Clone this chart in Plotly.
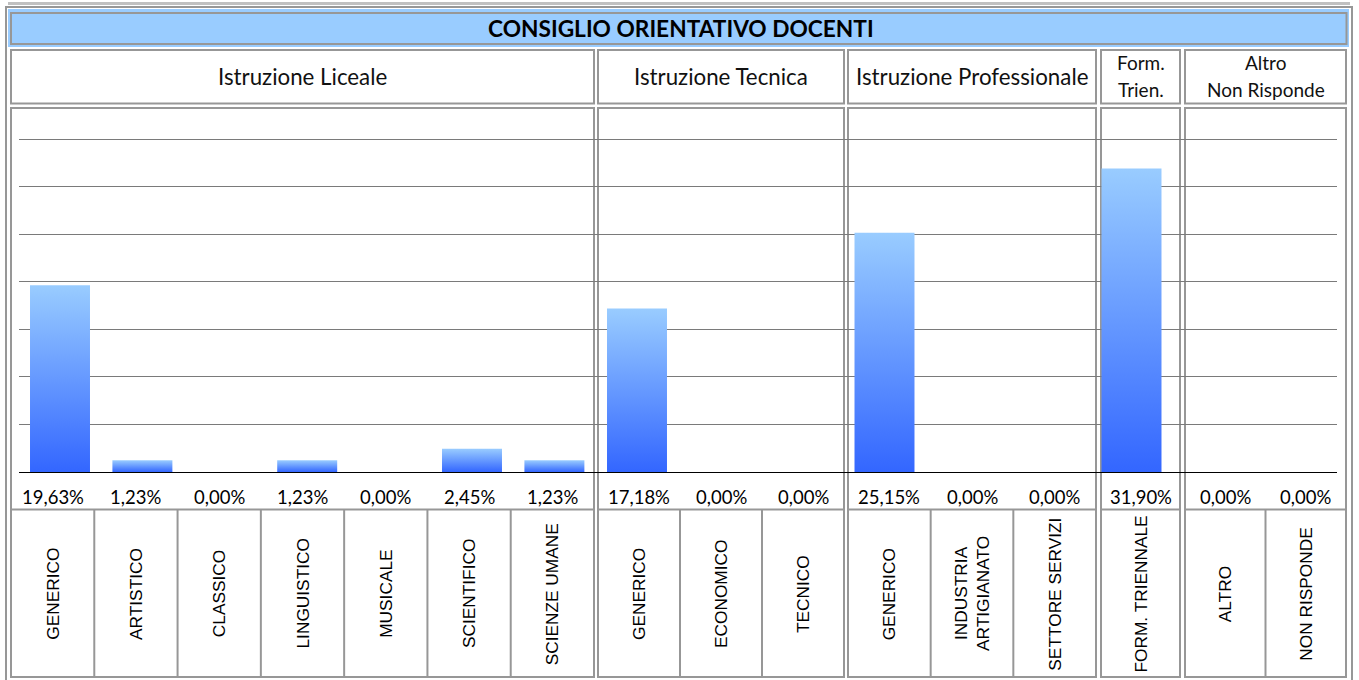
import plotly.graph_objects as go

W, H = 1359, 680

TITLE = "CONSIGLIO ORIENTATIVO DOCENTI"
group_titles = ["Istruzione Liceale", "Istruzione Tecnica", "Istruzione Professionale",
                "Form.<br>Trien.", "Altro<br>Non Risponde"]

liceale_labels = ["GENERICO", "ARTISTICO", "CLASSICO", "LINGUISTICO", "MUSICALE",
                  "SCIENTIFICO", "SCIENZE UMANE"]
liceale_values = [19.63, 1.23, 0.00, 1.23, 0.00, 2.45, 1.23]
tecnica_labels = ["GENERICO", "ECONOMICO", "TECNICO"]
tecnica_values = [17.18, 0.00, 0.00]
professionale_labels = ["GENERICO", "INDUSTRIA<br>ARTIGIANATO", "SETTORE SERVIZI"]
professionale_values = [25.15, 0.00, 0.00]
form_labels = ["FORM. TRIENNALE"]
form_values = [31.90]
altro_labels = ["ALTRO", "NON RISPONDE"]
altro_values = [0.00, 0.00]

groups = [
    (liceale_labels, liceale_values),
    (tecnica_labels, tecnica_values),
    (professionale_labels, professionale_values),
    (form_labels, form_values),
    (altro_labels, altro_values),
]

# layout geometry, in pixels of the 1359x680 page
cell_x = [(11, 594), (598, 844), (848, 1096), (1101, 1180), (1185, 1346)]
plot_x = [(19, 596), (596, 846), (846, 1100), (1100, 1182), (1182, 1337)]
first_bar_px = [60, 637, 884.5, 1131.5, 1223]
cat_px = 82.4
bar_half = 0.364
base_px, top_px, px_per_unit = 472, 120, 9.514

BORDER = "#979797"
TEXT_FONT = "Lato, Carlito, sans-serif"
LABEL_FONT = "Liberation Sans, Arial, sans-serif"


def X(px):
    return px / W


def Y(py):
    return 1 - py / H


def rect(x0, y0, x1, y1, color=BORDER, width=2, fill=None):
    return dict(type="rect", xref="paper", yref="paper",
                x0=X(x0), y0=Y(y0), x1=X(x1), y1=Y(y1),
                line=dict(color=color, width=width),
                fillcolor=fill, layer="below")


def line(x0, y0, x1, y1, color=BORDER, width=2):
    return dict(type="line", xref="paper", yref="paper",
                x0=X(x0), y0=Y(y0), x1=X(x1), y1=Y(y1),
                line=dict(color=color, width=width), layer="below")


def text(s, px, py, size, family=TEXT_FONT, color="#000000", angle=0):
    return dict(text=s, x=X(px), y=Y(py), xref="paper", yref="paper",
                xanchor="center", yanchor="middle", showarrow=False,
                textangle=angle, font=dict(family=family, size=size, color=color))


fig = go.Figure()
shapes = [
    dict(type="rect", xref="paper", yref="paper", x0=X(8), y0=Y(2), x1=X(1350), y1=Y(5),
         fillcolor="#c0c0c0", line=dict(width=0), layer="below"),
    rect(6, 7, 1352, 690),
    dict(type="rect", xref="paper", yref="paper", x0=X(8), y0=Y(9), x1=X(1349), y1=Y(47),
         fillcolor="#99ccff", line=dict(width=0), layer="below"),
    rect(11, 13, 1346.5, 44),
]
annotations = [text(f"<b>{TITLE}</b>", 681, 29, 22.7)]

for g, ((labels, values), (cx0, cx1), (px0, px1), c0, gtitle) in enumerate(
        zip(groups, cell_x, plot_x, first_bar_px, group_titles)):
    n = len(labels)
    shapes.append(rect(cx0, 50, cx1, 103.5))
    shapes.append(rect(cx0, 108, cx1, 677))
    shapes.append(line(cx0, 509.5, cx1, 509.5))
    cw = (cx1 - cx0) / n
    for k in range(1, n):
        shapes.append(line(cx0 + k * cw, 509.5, cx0 + k * cw, 677))

    parts = gtitle.split("<br>")
    if len(parts) == 1:
        annotations.append(text(gtitle, (cx0 + cx1) / 2, 76, 22.3, color="#111111"))
    else:
        for part, py in zip(parts, (62, 90)):
            annotations.append(text(part, (cx0 + cx1) / 2, py, 19, color="#111111"))

    xa = "x" if g == 0 else f"x{g + 1}"
    ya = "y" if g == 0 else f"y{g + 1}"
    for i, (lab, v) in enumerate(zip(labels, values)):
        fig.add_trace(go.Scatter(
            x=[i - bar_half, i + bar_half, i + bar_half, i - bar_half, i - bar_half],
            y=[0, 0, v, v, 0],
            mode="lines", fill="toself", line=dict(width=0),
            fillgradient=dict(type="vertical",
                              colorscale=[[0, "#3366ff"], [1, "#99ccff"]]),
            name=lab.replace("<br>", " "), showlegend=False,
            hovertemplate=f"{lab.replace('<br>', ' ')}: {v:.2f}%<extra></extra>",
            xaxis=xa, yaxis=ya,
        ))
        mid = cx0 + (i + 0.5) * cw
        annotations.append(text(f"{v:.2f}%".replace(".", ","), mid, 497, 18.5))
        annotations.append(text(lab, mid, 594, 17.3, family=LABEL_FONT, angle=-90))

    xkey = "xaxis" if g == 0 else f"xaxis{g + 1}"
    ykey = "yaxis" if g == 0 else f"yaxis{g + 1}"
    fig.update_layout({
        xkey: dict(domain=[X(px0), X(px1)],
                   range=[(px0 - c0) / cat_px, (px1 - c0) / cat_px],
                   anchor=ya, showgrid=False, zeroline=False, showticklabels=False,
                   ticks="", showline=True, linecolor="#000000", linewidth=1,
                   fixedrange=True),
        ykey: dict(domain=[Y(base_px), Y(top_px)],
                   range=[0, (base_px - top_px) / px_per_unit],
                   anchor=xa, showgrid=True, gridcolor="#7a7a7a", gridwidth=1,
                   tick0=0, dtick=5, zeroline=False, showticklabels=False, ticks="",
                   fixedrange=True),
    })

fig.update_layout(
    width=W, height=H,
    margin=dict(l=0, r=0, t=0, b=0),
    paper_bgcolor="#ffffff", plot_bgcolor="rgba(0,0,0,0)",
    shapes=shapes, annotations=annotations, showlegend=False,
)

fig.write_html("out.html", config={"displayModeBar": False},
               post_script="document.body.style.margin='0';")
